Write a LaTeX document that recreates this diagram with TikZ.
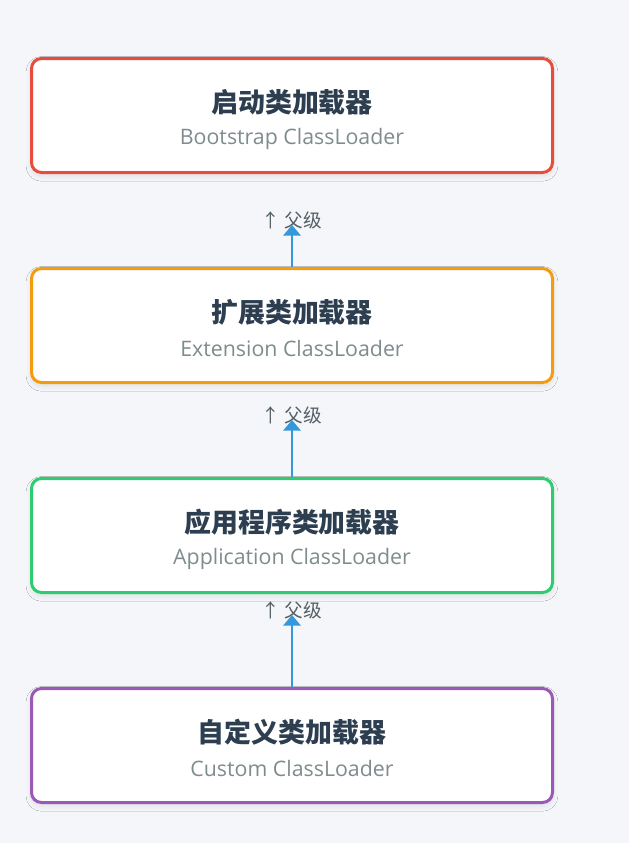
\documentclass[tikz,border=0pt]{standalone}
\usepackage{fontspec}
\setmainfont{Open Sans}
\newfontfamily\cjk{Noto Sans CJK SC}
\usetikzlibrary{arrows.meta,shadows.blur}

\definecolor{pagebg}{HTML}{F4F6F9}
\definecolor{titlecol}{HTML}{2C3E50}
\definecolor{subcol}{HTML}{7F8C8D}
\definecolor{bootred}{HTML}{E74C3C}
\definecolor{extorange}{HTML}{F39C12}
\definecolor{appgreen}{HTML}{2ECC71}
\definecolor{custpurple}{HTML}{9B59B6}
\definecolor{arrowblue}{HTML}{3498DB}
\definecolor{parentcol}{HTML}{555F66}

\tikzset{
  loader/.style={draw=#1, line width=2.25pt, rounded corners=7.5pt, fill=white,
    minimum width=390.75pt, minimum height=85.5pt,
    blur shadow={shadow xshift=0pt, shadow yshift=-2.5pt, shadow blur radius=4pt,
      shadow blur steps=12, shadow opacity=10}},
  cname/.style={font=\cjk\bfseries\fontsize{20.2}{23}\selectfont, text=titlecol},
  ename/.style={font=\fontsize{16}{19}\selectfont, text=subcol},
  parent/.style={font=\cjk\fontsize{14}{17}\selectfont, text=parentcol},
  uparrow/.style={draw=arrowblue, line width=2.1pt, -{Triangle[width=13pt,length=8pt]}}
}

\begin{document}
\begin{tikzpicture}[x=0.75pt, y=-0.75pt]
\fill[pagebg] (0,0) rectangle (629,843);
\useasboundingbox (0,0) rectangle (629,843);

% the four class loaders
\node[loader=bootred] (boot) at (292,115.5) {};
\node[cname] (bootc) at (292,102) {启动类加载器};
\node[ename] (boote) at (292,138.5) {Bootstrap ClassLoader};

\node[loader=extorange] (ext) at (292,325.5) {};
\node[cname] (extc) at (292,312) {扩展类加载器};
\node[ename] (exte) at (292,348.5) {Extension ClassLoader};

\node[loader=appgreen] (app) at (292,535.5) {};
\node[cname] (appc) at (292,522) {应用程序类加载器};
\node[ename] (appe) at (292,558.5) {Application ClassLoader};

\node[loader=custpurple] (cust) at (292,745.5) {};
\node[cname] (custc) at (292,732) {自定义类加载器};
\node[ename] (custe) at (292,768.5) {Custom ClassLoader};

% parent links
\node[parent] (p1) at (292,220) {↑ 父级};
\coordinate (t1) at (292,225);
\draw[uparrow] (ext.north) -- (t1);

\node[parent] (p2) at (292,415) {↑ 父级};
\coordinate (t2) at (292,420);
\draw[uparrow] (app.north) -- (t2);

\node[parent] (p3) at (292,610) {↑ 父级};
\coordinate (t3) at (292,615);
\draw[uparrow] (cust.north) -- (t3);
\end{tikzpicture}
\end{document}
